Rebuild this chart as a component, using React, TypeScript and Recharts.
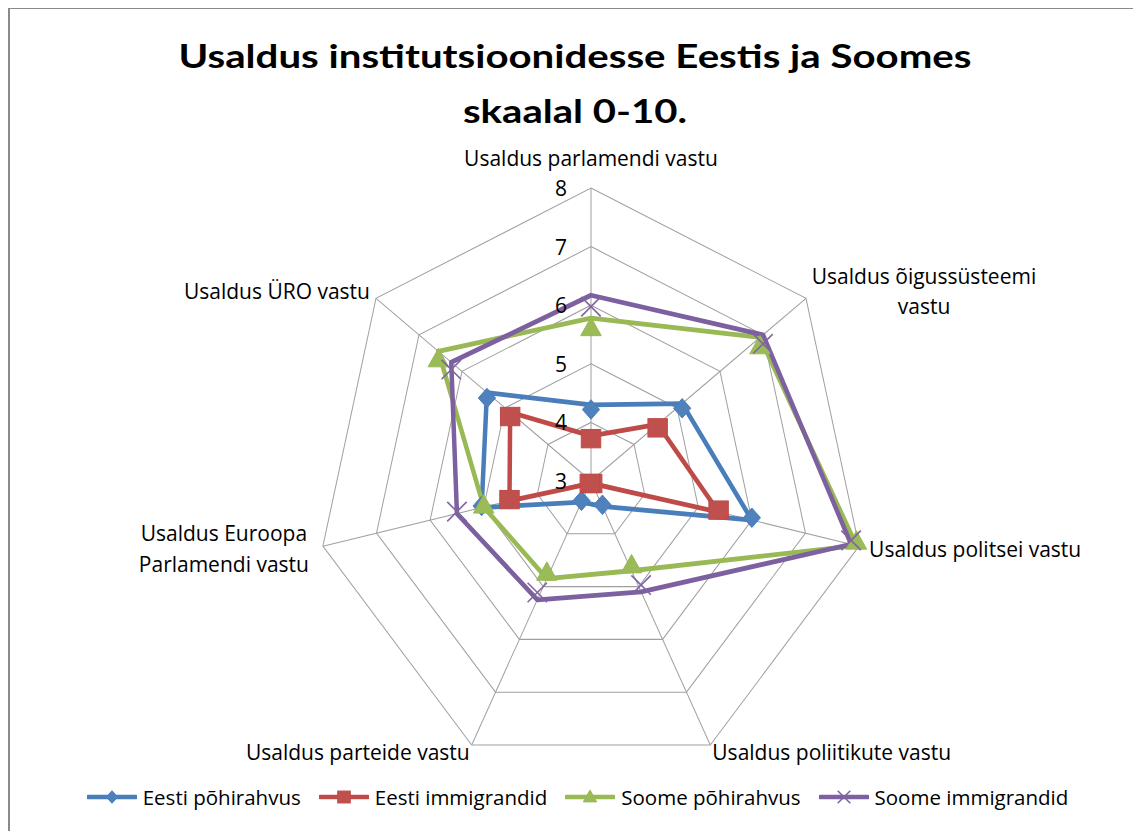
import React from 'react';
import { RadarChart, Radar, PolarGrid, PolarAngleAxis, PolarRadiusAxis, Legend } from 'recharts';

// ---- data ----
const categories = [
  'Usaldus parlamendi vastu',
  'Usaldus õigussüsteemi vastu',
  'Usaldus politsei vastu',
  'Usaldus poliitikute vastu',
  'Usaldus parteide vastu',
  'Usaldus Euroopa Parlamendi vastu',
  'Usaldus ÜRO vastu',
];
const tickLabelLines = [
  ['Usaldus parlamendi vastu'],
  ['Usaldus õigussüsteemi', 'vastu'],
  ['Usaldus politsei vastu'],
  ['Usaldus poliitikute vastu'],
  ['Usaldus parteide vastu'],
  ['Usaldus Euroopa', 'Parlamendi vastu'],
  ['Usaldus ÜRO vastu'],
];
const eestiPohirahvus = [4.3, 5.12, 6.0, 3.48, 3.4, 5.04, 5.42];
const eestiImmigrandid = [3.77, 4.55, 5.38, 3.05, 3.05, 4.52, 4.88];
const soomePohirahvus = [5.78, 6.93, 7.95, 4.7, 4.85, 5.0, 6.55];
const soomeImmigrandid = [6.17, 7.0, 7.85, 5.1, 5.25, 5.5, 6.25];
const seriesNames = ['Eesti põhirahvus', 'Eesti immigrandid', 'Soome põhirahvus', 'Soome immigrandid'];
const seriesKeys = ['ep', 'ei', 'sp', 'si'];
const titleLines = ['Usaldus institutsioonidesse Eestis ja Soomes', 'skaalal 0-10.'];
const radiusDomain = [3, 8];

const data = categories.map((c, i) => ({
  category: c,
  ep: eestiPohirahvus[i],
  ei: eestiImmigrandid[i],
  sp: soomePohirahvus[i],
  si: soomeImmigrandid[i],
}));

// ---- layout / style ----
const W = 1133;
const H = 823;
const CX = 583;
const CY = 473;
const R = 275;
const K = 293 / 275;
const FONT = '"Open Sans", Lato, sans-serif';
const TITLE_FONT = 'Lato, "Open Sans", sans-serif';
const lineColors = ['#4A7EBB', '#BE4B48', '#98B954', '#7D60A0'];
const markerColors = ['#4F81BD', '#C0504D', '#9BBB59', '#8064A2'];
const markerTypes = ['diamond', 'square', 'triangle', 'x'];

const labelPlacement = [
  { anchor: 'middle', dx: 0, dys: [-30] },
  { anchor: 'middle', dx: 118, dys: [-22, 8] },
  { anchor: 'start', dx: 10, dys: [3] },
  { anchor: 'start', dx: 2, dys: [7] },
  { anchor: 'end', dx: -2, dys: [7] },
  { anchor: 'middle', dx: -99, dys: [-13, 18] },
  { anchor: 'end', dx: -6, dys: [-7] },
];

function Marker({ type, x, y, s, i }: { type: string; x: number; y: number; s: number; i: number }) {
  const c = markerColors[i];
  const lc = lineColors[i];
  if (type === 'diamond') {
    return (
      <path
        d={`M${x},${y - 9 * s} L${x + 8 * s},${y} L${x},${y + 9 * s} L${x - 8 * s},${y} Z`}
        fill={c}
        stroke={lc}
        strokeWidth={1}
      />
    );
  }
  if (type === 'square') {
    return <rect x={x - 9 * s} y={y - 8.5 * s} width={18 * s} height={17 * s} fill={c} stroke={lc} strokeWidth={1} />;
  }
  if (type === 'triangle') {
    return (
      <path
        d={`M${x},${y - 10 * s} L${x + 9.5 * s},${y + 7 * s} L${x - 9.5 * s},${y + 7 * s} Z`}
        fill={c}
        stroke={lc}
        strokeWidth={1}
      />
    );
  }
  return (
    <g stroke={c} strokeWidth={1.6}>
      <line x1={x - 9 * s} y1={y - 9 * s} x2={x + 9 * s} y2={y + 9 * s} />
      <line x1={x - 9 * s} y1={y + 9 * s} x2={x + 9 * s} y2={y - 9 * s} />
    </g>
  );
}

const makeDot = (i: number) => (props: any) => {
  const { cx, cy, index } = props;
  if (cx == null || cy == null) return <g key={`d${i}-${index}`} />;
  return (
    <g key={`d${i}-${index}`}>
      <Marker type={markerTypes[i]} x={cx} y={cy} s={1.08} i={i} />
    </g>
  );
};

const RadiusTick = (props: any) => {
  const { x, y, payload } = props;
  const yy = CY + (y - CY) * K;
  return (
    <text x={x - 24} y={yy} textAnchor="end" dominantBaseline="central" fontFamily={FONT} fontSize={21} fill="#000">
      {payload.value}
    </text>
  );
};

const AngleTick = (props: any) => {
  const { payload, index } = props;
  const a = (payload.coordinate * Math.PI) / 180;
  const vx = CX + R * Math.cos(a);
  const vy = CY - R * K * Math.sin(a);
  const p = labelPlacement[index] || labelPlacement[0];
  const lines = tickLabelLines[index] || [String(payload.value)];
  return (
    <g>
      {lines.map((ln, j) => (
        <text
          key={j}
          x={vx + p.dx}
          y={vy + p.dys[j]}
          textAnchor={p.anchor as any}
          dominantBaseline="central"
          fontFamily={FONT}
          fontSize={21}
          fill="#000"
        >
          {ln}
        </text>
      ))}
    </g>
  );
};

const LegendContent = () => (
  <div
    style={{
      display: 'flex',
      justifyContent: 'center',
      alignItems: 'center',
      fontFamily: FONT,
      fontSize: 20.5,
      color: '#000',
      lineHeight: '24px',
    }}
  >
    {seriesNames.map((n, i) => (
      <div key={n} style={{ display: 'flex', alignItems: 'center', marginRight: i < 3 ? 18 : 0 }}>
        <svg width={50} height={24} style={{ display: 'block' }}>
          <line x1={1} x2={49} y1={12} y2={12} stroke={lineColors[i]} strokeWidth={4.5} strokeLinecap="round" />
          <Marker type={markerTypes[i]} x={25} y={12} s={0.7} i={i} />
        </svg>
        <span style={{ marginLeft: 6, whiteSpace: 'nowrap' }}>{n}</span>
      </div>
    ))}
  </div>
);

export default function App() {
  return (
    <div style={{ position: 'relative', width: W, height: H }}>
      <style>{`
        .recharts-polar-grid, .recharts-radar { transform: scaleY(${K}); transform-origin: ${CX}px ${CY}px; }
      `}</style>
      <div
        style={{
          position: 'absolute',
          left: 0,
          top: -1,
          width: 1132,
          height: 830,
          borderTop: '2.5px solid #8a8a8a',
          borderLeft: '2px solid #8a8a8a',
          borderRight: '1.5px solid #cfcfcf',
          boxSizing: 'border-box',
        }}
      />
      <RadarChart
        width={W}
        height={H}
        data={data}
        cx={CX}
        cy={CY}
        outerRadius={R}
        margin={{ top: 0, right: 0, bottom: 0, left: 0 }}
      >
        <PolarGrid gridType="polygon" stroke="#a0a0a0" strokeWidth={1} />
        <PolarAngleAxis dataKey="category" tick={AngleTick} tickLine={false} axisLine={false} />
        <PolarRadiusAxis
          angle={90}
          domain={radiusDomain}
          tickCount={6}
          axisLine={false}
          tickLine={false}
          tick={RadiusTick}
        />
        {seriesKeys.map((k, i) => (
          <Radar
            key={k}
            name={seriesNames[i]}
            dataKey={k}
            stroke={lineColors[i]}
            strokeWidth={4.5}
            strokeLinejoin="round"
            fill="none"
            fillOpacity={0}
            dot={makeDot(i)}
            isAnimationActive={false}
          />
        ))}
        <Legend content={LegendContent} wrapperStyle={{ position: 'absolute', top: 777, left: 3, width: W, height: 24 }} />
      </RadarChart>
      <svg
        width={W}
        height={140}
        style={{ position: 'absolute', left: 0, top: 0, pointerEvents: 'none' }}
      >
        <text
          x={567}
          y={60}
          textAnchor="middle"
          fontFamily={TITLE_FONT}
          fontWeight={700}
          fontSize={32}
          fill="#000"
          textLength={793}
          lengthAdjust="spacingAndGlyphs"
        >
          {titleLines[0]}
        </text>
        <text
          x={567}
          y={115}
          textAnchor="middle"
          fontFamily={TITLE_FONT}
          fontWeight={700}
          fontSize={32}
          fill="#000"
          textLength={224}
          lengthAdjust="spacingAndGlyphs"
        >
          {titleLines[1]}
        </text>
      </svg>
    </div>
  );
}
